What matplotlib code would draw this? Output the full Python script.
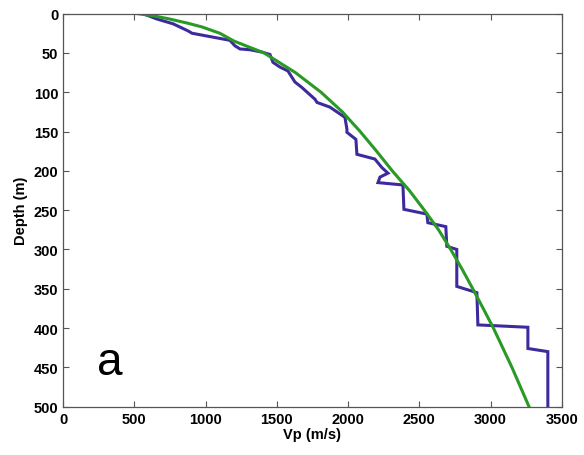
import matplotlib
matplotlib.use('Agg')
import matplotlib.pyplot as plt

vp_meas = [560, 660, 772, 877, 905, 1171, 1206, 1242, 1312, 1396, 1452, 1473, 1522, 1578,
           1592, 1627, 1676, 1768, 1782, 1873, 1978, 1992, 1992, 2055, 2062, 2188, 2238,
           2280, 2224, 2210, 2385, 2392, 2553, 2560, 2686, 2693, 2763, 2763, 2904, 2911,
           3262, 3262, 3402, 3402]
depth_meas = [0, 7, 13, 22, 25, 34, 41, 45, 46, 49, 52, 62, 68, 73,
              77, 87, 94, 109, 113, 119, 132, 147, 151, 160, 179, 185, 196,
              203, 208, 215, 218, 249, 255, 266, 271, 296, 300, 347, 355, 396,
              399, 426, 430, 500]

# fitted velocity-depth curve
depth_fit = [0, 3, 7, 12, 17, 25, 35, 50, 75, 100, 125, 150, 175, 200, 225, 250,
             275, 300, 325, 350, 375, 400, 425, 450, 475, 500]
vp_fit = [520, 640, 750, 870, 975, 1100, 1200, 1410, 1630, 1810, 1960, 2085, 2200,
          2310, 2430, 2535, 2635, 2720, 2800, 2875, 2948, 3020, 3085, 3150, 3210, 3270]

xticks = [0, 500, 1000, 1500, 2000, 2500, 3000, 3500]
yticks = [0, 50, 100, 150, 200, 250, 300, 350, 400, 450, 500]

plt.rcParams['font.family'] = ['Liberation Sans', 'DejaVu Sans']

fig = plt.figure(figsize=(5.84, 4.56), dpi=100)
ax = fig.add_axes([0.108, 0.106, 0.854, 0.862])

ax.plot(vp_meas, depth_meas, color='#3d2b9e', linewidth=2.2, solid_joinstyle='miter')
ax.plot(vp_fit, depth_fit, color='#2a9a26', linewidth=2.2)

ax.set_xlim(0, 3500)
ax.set_ylim(500, 0)
ax.set_xticks(xticks)
ax.set_yticks(yticks)
ax.tick_params(direction='in', top=True, right=True, length=4, width=0.8,
               labelsize=10.5, color='#555555')
for lab in ax.get_xticklabels() + ax.get_yticklabels():
    lab.set_fontweight('bold')
for sp in ax.spines.values():
    sp.set_color('#555555')
    sp.set_linewidth(0.9)

ax.set_xlabel('Vp (m/s)', fontsize=10.5, fontweight='bold', labelpad=1)
ax.set_ylabel('Depth (m)', fontsize=10.5, fontweight='bold', labelpad=4)

ax.text(0.068, 0.083, 'a', transform=ax.transAxes, fontsize=33)

fig.savefig('out.png', dpi=100)
